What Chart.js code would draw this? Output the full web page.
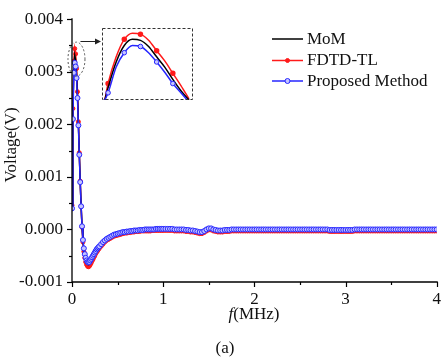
<!DOCTYPE html>
<html><head><meta charset="utf-8">
<script src="https://cdn.jsdelivr.net/npm/chart.js@4"></script>
<style>
html,body{margin:0;padding:0;background:#fff;}
#wrap{position:relative;width:448px;height:357px;overflow:hidden;}
#main{position:absolute;left:0;top:0;}
#inset{position:absolute;left:102px;top:28px;}
</style></head><body>
<div id="wrap"><canvas id="main" width="448" height="357"></canvas><canvas id="inset" width="91" height="72"></canvas></div>
<script>
// ---------- data ----------
const seriesNames = ["MoM", "FDTD-TL", "Proposed Method"];
const xTickLabels = ["0", "1", "2", "3", "4"];
const yTickLabels = ["-0.001", "0.000", "0.001", "0.002", "0.003", "0.004"];

const freq = [0,0.01,0.02,0.03,0.04,0.05,0.06,0.07,0.08,0.09,0.10,0.11,0.12,0.13,0.14,0.15,0.16,0.17,0.18,0.19,0.20,0.21,0.22,0.23,0.24,0.25,0.26,0.27,0.28,0.29,0.30,
0.32,0.34,0.36,0.38,0.40,0.42,0.44,0.46,0.48,0.50,0.52,0.54,0.56,0.58,0.60,0.62,0.64,0.66,0.68,0.70,0.72,0.74,0.76,0.78,0.80,0.82,0.84,0.86,0.88,0.90,0.92,0.94,0.96,0.98,1.00,
1.025,1.050,1.075,1.100,1.125,1.150,1.175,1.200,1.225,1.250,
1.275,1.300,1.325,1.350,1.375,1.400,1.425,1.450,1.475,1.500,
1.525,1.550,1.575,1.600,1.625,1.650,1.675,1.700,1.725,1.750,
1.775,1.800,1.825,1.850,1.875,1.900,1.925,1.950,1.975,2.000,
2.025,2.050,2.075,2.100,2.125,2.150,2.175,2.200,2.225,2.250,
2.275,2.300,2.325,2.350,2.375,2.400,2.425,2.450,2.475,2.500,
2.525,2.550,2.575,2.600,2.625,2.650,2.675,2.700,2.725,2.750,
2.775,2.800,2.825,2.850,2.875,2.900,2.925,2.950,2.975,3.000,
3.025,3.050,3.075,3.100,3.125,3.150,3.175,3.200,3.225,3.250,
3.275,3.300,3.325,3.350,3.375,3.400,3.425,3.450,3.475,3.500,
3.525,3.550,3.575,3.600,3.625,3.650,3.675,3.700,3.725,3.750,
3.775,3.800,3.825,3.850,3.875,3.900,3.925,3.950,3.975,4.000];

const momV = [0.00043,0.00222,0.00310,0.00331,0.00322,0.00297,0.00256,0.00202,0.00144,0.00091,0.00044,0.00005,-0.00022,-0.00039,-0.00050,-0.00058,-0.00063,-0.00066,-0.00067,-0.00066,-0.00063,-0.00060,-0.00056,-0.00053,-0.00050,-0.00047,-0.00043,-0.00040,-0.00038,-0.00036,-0.00034,
-0.00030,-0.00026,-0.00022,-0.00019,-0.00017,-0.00015,-0.00013,-0.00011,-0.00010,-0.00009,-0.00008,-0.00007,-0.00006,-0.00006,-0.00005,-0.00005,-0.00004,-0.00004,-0.00003,-0.00003,-0.00003,-0.00002,-0.00002,-0.00002,-0.00001,-0.00001,-0.00001,-0.00001,-0.00001,-0.00001,0.00000,0.00000,0.00000,0.00000,0.00000,
0.00000,0.00000,0.00000,0.00000,-0.00001,-0.00001,-0.00001,-0.00001,-0.00001,-0.00002,
-0.00002,-0.00003,-0.00003,-0.00004,-0.00005,-0.00006,-0.00006,-0.00004,-0.00001,0.00001,
0.00001,-0.00001,-0.00002,-0.00003,-0.00003,-0.00003,-0.00002,-0.00002,-0.00002,-0.00001,
-0.00001,-0.00001,-0.00001,-0.00001,-0.00001,-0.00001,-0.00001,-0.00001,-0.00001,-0.00001,
-0.00001,-0.00001,-0.00001,-0.00001,-0.00001,-0.00001,-0.00001,-0.00001,-0.00001,-0.00001,
-0.00001,-0.00001,-0.00001,-0.00001,-0.00001,-0.00001,-0.00001,-0.00001,-0.00001,-0.00001,
-0.00001,-0.00001,-0.00001,-0.00001,-0.00001,-0.00001,-0.00001,-0.00001,-0.00001,-0.00001,
-0.00001,-0.00001,-0.00002,-0.00002,-0.00002,-0.00002,-0.00002,-0.00002,-0.00002,-0.00002,
-0.00002,-0.00002,-0.00002,-0.00001,-0.00001,-0.00001,-0.00001,-0.00001,-0.00001,-0.00001,
-0.00001,-0.00001,-0.00001,-0.00001,-0.00001,-0.00001,-0.00001,-0.00001,-0.00001,-0.00001,
-0.00001,-0.00001,-0.00001,-0.00001,-0.00001,-0.00001,-0.00001,-0.00001,-0.00001,-0.00001,
-0.00001,-0.00001,-0.00001,-0.00001,-0.00001,-0.00001,-0.00001,-0.00001,-0.00001,-0.00001];

const fdtdV = [0.00046,0.00230,0.00320,0.00344,0.00334,0.00306,0.00262,0.00205,0.00146,0.00092,0.00044,0.00004,-0.00024,-0.00042,-0.00054,-0.00062,-0.00067,-0.00070,-0.00071,-0.00070,-0.00067,-0.00064,-0.00060,-0.00057,-0.00053,-0.00050,-0.00046,-0.00043,-0.00041,-0.00038,-0.00036,
-0.00032,-0.00028,-0.00024,-0.00021,-0.00019,-0.00017,-0.00015,-0.00013,-0.00012,-0.00011,-0.00010,-0.00009,-0.00008,-0.00007,-0.00007,-0.00006,-0.00006,-0.00005,-0.00005,-0.00004,-0.00004,-0.00004,-0.00003,-0.00003,-0.00003,-0.00003,-0.00003,-0.00003,-0.00002,-0.00002,-0.00002,-0.00002,-0.00002,-0.00002,-0.00002,
-0.00002,-0.00002,-0.00002,-0.00002,-0.00003,-0.00003,-0.00003,-0.00003,-0.00003,-0.00004,
-0.00004,-0.00005,-0.00005,-0.00006,-0.00007,-0.00008,-0.00008,-0.00006,-0.00003,-0.00001,
-0.00001,-0.00003,-0.00004,-0.00005,-0.00005,-0.00005,-0.00004,-0.00004,-0.00004,-0.00003,
-0.00003,-0.00003,-0.00003,-0.00003,-0.00003,-0.00003,-0.00003,-0.00003,-0.00003,-0.00003,
-0.00003,-0.00003,-0.00003,-0.00003,-0.00003,-0.00003,-0.00003,-0.00003,-0.00003,-0.00003,
-0.00003,-0.00003,-0.00003,-0.00003,-0.00003,-0.00003,-0.00003,-0.00003,-0.00003,-0.00003,
-0.00003,-0.00003,-0.00003,-0.00003,-0.00003,-0.00003,-0.00003,-0.00003,-0.00003,-0.00003,
-0.00003,-0.00003,-0.00004,-0.00004,-0.00004,-0.00004,-0.00004,-0.00004,-0.00004,-0.00004,
-0.00004,-0.00004,-0.00004,-0.00003,-0.00003,-0.00003,-0.00003,-0.00003,-0.00003,-0.00003,
-0.00003,-0.00003,-0.00003,-0.00003,-0.00003,-0.00003,-0.00003,-0.00003,-0.00003,-0.00003,
-0.00003,-0.00003,-0.00003,-0.00003,-0.00003,-0.00003,-0.00003,-0.00003,-0.00003,-0.00003,
-0.00003,-0.00003,-0.00003,-0.00003,-0.00003,-0.00003,-0.00003,-0.00003,-0.00003,-0.00003];

const proposedV = [0.00040,0.00210,0.00298,0.00317,0.00310,0.00288,0.00250,0.00198,0.00142,0.00090,0.00044,0.00006,-0.00020,-0.00036,-0.00047,-0.00054,-0.00059,-0.00062,-0.00063,-0.00062,-0.00059,-0.00056,-0.00053,-0.00050,-0.00047,-0.00044,-0.00041,-0.00038,-0.00036,-0.00034,-0.00032,
-0.00028,-0.00024,-0.00021,-0.00018,-0.00016,-0.00014,-0.00012,-0.00010,-0.00009,-0.00008,-0.00007,-0.00006,-0.00005,-0.00005,-0.00004,-0.00004,-0.00003,-0.00003,-0.00002,-0.00002,-0.00002,-0.00001,-0.00001,-0.00001,0.00000,0.00000,0.00000,0.00000,0.00000,0.00000,0.00001,0.00001,0.00001,0.00001,0.00001,
0.00001,0.00001,0.00001,0.00001,0.00000,0.00000,0.00000,0.00000,0.00000,-0.00001,
-0.00001,-0.00002,-0.00002,-0.00003,-0.00004,-0.00005,-0.00005,-0.00003,0.00000,0.00002,
0.00002,0.00000,-0.00001,-0.00002,-0.00002,-0.00002,-0.00001,-0.00001,-0.00001,0.00000,
0.00000,0.00000,0.00000,0.00000,0.00000,0.00000,0.00000,0.00000,0.00000,0.00000,
0.00000,0.00000,0.00000,0.00000,0.00000,0.00000,0.00000,0.00000,0.00000,0.00000,
0.00000,0.00000,0.00000,0.00000,0.00000,0.00000,0.00000,0.00000,0.00000,0.00000,
0.00000,0.00000,0.00000,0.00000,0.00000,0.00000,0.00000,0.00000,0.00000,0.00000,
0.00000,0.00000,-0.00001,-0.00001,-0.00001,-0.00001,-0.00001,-0.00001,-0.00001,-0.00001,
-0.00001,-0.00001,-0.00001,0.00000,0.00000,0.00000,0.00000,0.00000,0.00000,0.00000,
0.00000,0.00000,0.00000,0.00000,0.00000,0.00000,0.00000,0.00000,0.00000,0.00000,
0.00000,0.00000,0.00000,0.00000,0.00000,0.00000,0.00000,0.00000,0.00000,0.00000,
0.00000,0.00000,0.00000,0.00000,0.00000,0.00000,0.00000,0.00000,0.00000,0.00000];

// inset (zoom of the peak)
const insetFreq = [0.0190,0.0200,0.0225,0.0250,0.0275,0.0300,0.0325,0.0350,0.0375,0.0400,0.0425,0.0450];
const insetMoM = [0.00280,0.00292,0.00317,0.00333,0.00339,0.00338,0.00332,0.00322,0.00312,0.00300,0.00289,0.00280];
const insetFdtd = [0.00280,0.00296,0.00322,0.00339,0.00345,0.00344,0.00338,0.00328,0.00318,0.00306,0.00294,0.00281];
const insetProposed = [0.00280,0.00287,0.00312,0.00326,0.00333,0.00332,0.00326,0.00317,0.00307,0.00296,0.00287,0.00278];
const insetMarkerIdx = [1,3,5,7,9];

// ---------- styles ----------
const FONT = "'Liberation Serif','Times New Roman',serif";
const BLACK = '#000000', RED = '#ff1a1a', BLUE = '#2626ff', BLUEFILL = '#c4c4ff';
const pts = (xs, ys) => xs.map((x, i) => ({x: x, y: ys[i]}));

const decor = {
  id: 'decor',
  afterDraw(chart) {
    const {ctx, chartArea: a, scales: {x, y}} = chart;
    ctx.save();
    ctx.strokeStyle = '#000'; ctx.lineWidth = 1.3;
    ctx.beginPath(); ctx.moveTo(a.left, a.top - 1); ctx.lineTo(a.left, a.bottom); ctx.lineTo(a.right + 1, a.bottom); ctx.stroke();
    ctx.lineWidth = 1.2;
    y.ticks.forEach(t => {
      const p = Math.round(y.getPixelForValue(t.value)) + 0.5;
      const L = t.label !== '' ? 5 : 3;
      ctx.beginPath(); ctx.moveTo(a.left, p); ctx.lineTo(a.left - L, p); ctx.stroke();
    });
    x.ticks.forEach(t => {
      const p = Math.round(x.getPixelForValue(t.value)) + 0.5;
      const L = t.label !== '' ? 5 : 3;
      ctx.beginPath(); ctx.moveTo(p, a.bottom); ctx.lineTo(p, a.bottom + L); ctx.stroke();
    });
    ctx.fillStyle = '#111';
    ctx.font = '17px ' + FONT;
    ctx.textBaseline = 'middle';
    ctx.save();
    ctx.translate(12, 145); ctx.rotate(-Math.PI / 2);
    ctx.textAlign = 'center'; ctx.fillText('Voltage(V)', 0, 0);
    ctx.restore();
    ctx.font = 'italic 17px ' + FONT;
    const wf = ctx.measureText('f').width;
    ctx.font = '17px ' + FONT;
    const wr = ctx.measureText('(MHz)').width;
    const sx = 254 - (wf + wr) / 2;
    ctx.textAlign = 'left';
    ctx.font = 'italic 17px ' + FONT; ctx.fillText('f', sx, 315);
    ctx.font = '17px ' + FONT; ctx.fillText('(MHz)', sx + wf, 315);
    ctx.textAlign = 'center'; ctx.fillText('(a)', 225, 349);
    const cx = x.getPixelForValue(0.049), cy = y.getPixelForValue(0.00324);
    ctx.strokeStyle = '#555'; ctx.lineWidth = 1; ctx.setLineDash([2, 2]);
    ctx.beginPath(); ctx.ellipse(cx, cy, 8.5, 17, 0, 0, Math.PI * 2); ctx.stroke();
    ctx.setLineDash([]);
    ctx.strokeStyle = '#222';
    ctx.beginPath(); ctx.moveTo(cx + 4, 41.5); ctx.lineTo(96, 41.5); ctx.stroke();
    ctx.fillStyle = '#222';
    ctx.beginPath(); ctx.moveTo(101, 41.5); ctx.lineTo(95, 38.5); ctx.lineTo(95, 44.5); ctx.closePath(); ctx.fill();
    const ds = chart.data.datasets;
    const rows = [39, 60.5, 81];
    rows.forEach((ry, i) => {
      const d = ds[i];
      ctx.strokeStyle = d.borderColor; ctx.lineWidth = 1.5;
      ctx.beginPath(); ctx.moveTo(272, ry); ctx.lineTo(303, ry); ctx.stroke();
      if (d.pointRadius > 0) {
        ctx.beginPath(); ctx.arc(287.5, ry, d.pointRadius, 0, Math.PI * 2);
        ctx.fillStyle = d.pointBackgroundColor; ctx.fill();
        ctx.lineWidth = 1; ctx.strokeStyle = d.pointBorderColor; ctx.stroke();
      }
      ctx.fillStyle = '#111'; ctx.font = '17px ' + FONT; ctx.textAlign = 'left'; ctx.textBaseline = 'middle';
      ctx.fillText(seriesNames[i], 307, ry + 0.5);
    });
    ctx.restore();
  }
};

new Chart(document.getElementById('main'), {
  type: 'line',
  data: {
    datasets: [
      {label: seriesNames[0], data: pts(freq, momV), borderColor: BLACK, borderWidth: 1.5, pointRadius: 0,
       pointBackgroundColor: BLACK, pointBorderColor: BLACK, order: 2},
      {label: seriesNames[1], data: pts(freq, fdtdV), borderColor: RED, borderWidth: 1.5, pointRadius: 2,
       pointBackgroundColor: RED, pointBorderColor: RED, pointBorderWidth: 1, order: 3},
      {label: seriesNames[2], data: pts(freq, proposedV), borderColor: BLUE, borderWidth: 1.5, pointRadius: 2.5,
       pointBackgroundColor: BLUEFILL, pointBorderColor: BLUE, pointBorderWidth: 1, order: 1}
    ]
  },
  options: {
    responsive: false, animation: false, devicePixelRatio: 1,
    layout: {padding: {left: 0, right: 8, top: 11, bottom: 0}},
    plugins: {legend: {display: false}, tooltip: {enabled: false}},
    elements: {line: {tension: 0}},
    scales: {
      x: {type: 'linear', min: 0, max: 4,
          grid: {display: false, drawTicks: false}, border: {display: false},
          ticks: {stepSize: 0.5, autoSkip: false, maxRotation: 0, minRotation: 0, padding: 7, color: '#111',
                  font: {family: FONT, size: 17},
                  callback: v => { const r = Math.round(v); return Math.abs(v - r) < 1e-9 ? xTickLabels[r] : ''; }},
          afterFit: s => { s.height = 75; }},
      y: {type: 'linear', min: -0.001, max: 0.004,
          grid: {display: false, drawTicks: false}, border: {display: false},
          ticks: {stepSize: 0.0005, autoSkip: false, padding: 9, color: '#111',
                  font: {family: FONT, size: 17},
                  callback: v => { const k = v * 1000; const r = Math.round(k); return Math.abs(k - r) < 1e-6 ? yTickLabels[r + 1] : ''; }},
          afterFit: s => { s.width = 72; }}
    }
  },
  plugins: [decor]
});

const insetBorder = {
  id: 'insetBorder',
  afterDraw(chart) {
    const ctx = chart.ctx;
    ctx.save();
    ctx.strokeStyle = '#333'; ctx.lineWidth = 1; ctx.setLineDash([3, 2]);
    ctx.strokeRect(0.5, 0.5, chart.width - 1, chart.height - 1);
    ctx.restore();
  }
};
const markerR = r => (c => insetMarkerIdx.includes(c.dataIndex) ? r : 0);
new Chart(document.getElementById('inset'), {
  type: 'line',
  data: {
    datasets: [
      {data: pts(insetFreq, insetMoM), borderColor: BLACK, borderWidth: 1.5, pointRadius: 0, order: 2, cubicInterpolationMode: 'monotone'},
      {data: pts(insetFreq, insetFdtd), borderColor: RED, borderWidth: 1.5, pointRadius: markerR(2),
       pointBackgroundColor: RED, pointBorderColor: RED, order: 3, cubicInterpolationMode: 'monotone'},
      {data: pts(insetFreq, insetProposed), borderColor: BLUE, borderWidth: 1.5, pointRadius: markerR(2.3),
       pointBackgroundColor: BLUEFILL, pointBorderColor: BLUE, pointBorderWidth: 1, order: 1, cubicInterpolationMode: 'monotone'}
    ]
  },
  options: {
    responsive: false, animation: false, devicePixelRatio: 1,
    layout: {padding: 0},
    plugins: {legend: {display: false}, tooltip: {enabled: false}},
    scales: {
      x: {type: 'linear', display: false, min: 0.01812, max: 0.04623},
      y: {type: 'linear', display: false, min: 0.0028, max: 0.0035}
    }
  },
  plugins: [insetBorder]
});
</script>
</body></html>
